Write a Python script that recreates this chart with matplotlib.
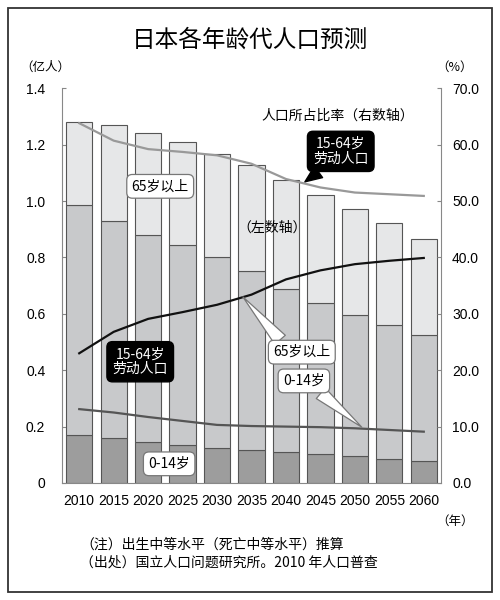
import numpy as np
import matplotlib
matplotlib.use("Agg")
import matplotlib.pyplot as plt
from matplotlib.patches import Rectangle

plt.rcParams['font.family'] = ['Noto Sans CJK SC', 'DejaVu Sans']

years = ["2010", "2015", "2020", "2025", "2030", "2035", "2040", "2045", "2050", "2055", "2060"]
# population (100 million), stacked
pop_0_14 = [0.170, 0.160, 0.146, 0.135, 0.124, 0.117, 0.110, 0.103, 0.096, 0.086, 0.079]
pop_15_64 = [0.817, 0.768, 0.735, 0.708, 0.676, 0.634, 0.578, 0.535, 0.500, 0.474, 0.446]
pop_65 = [0.294, 0.340, 0.361, 0.366, 0.368, 0.376, 0.385, 0.385, 0.375, 0.362, 0.342]
# share of population (%)
ratio_15_64 = [63.8, 60.7, 59.2, 58.7, 58.1, 56.6, 53.9, 52.4, 51.5, 51.2, 50.9]
ratio_65 = [23.0, 26.8, 29.1, 30.3, 31.6, 33.4, 36.1, 37.7, 38.8, 39.4, 39.9]
ratio_0_14 = [13.1, 12.5, 11.7, 11.0, 10.3, 10.1, 10.0, 9.9, 9.7, 9.4, 9.1]

x = np.arange(len(years))
a = np.array(pop_0_14)
b = np.array(pop_15_64)
c = np.array(pop_65)

num_font = ['Liberation Sans', 'DejaVu Sans']

fig = plt.figure(figsize=(5, 6), dpi=100)
fig.patches.append(Rectangle((8/500, 8/600), 484/500, 584/600, transform=fig.transFigure,
                             fill=False, ec="#333333", lw=1.3))

ax = fig.add_axes([0.124, 0.195, 0.758, 0.658])
w = 0.76
ax.bar(x, a, w, color="#9d9d9d", ec="#555555", lw=0.8, zorder=2)
ax.bar(x, b, w, bottom=a, color="#c8c9cb", ec="#555555", lw=0.8, zorder=2)
ax.bar(x, c, w, bottom=a + b, color="#e6e7e8", ec="#555555", lw=0.8, zorder=2)

ax.set_xlim(-0.5, 10.5)
ax.set_ylim(0, 1.4)
ax.set_yticks(np.arange(0, 1.41, 0.2))
ax.set_yticklabels(["0", "0.2", "0.4", "0.6", "0.8", "1.0", "1.2", "1.4"],
                   fontsize=10, family=num_font)
ax.set_xticks(x)
ax.set_xticklabels(years, fontsize=10, family=num_font)
ax.tick_params(axis="x", length=0, pad=8)
ax.tick_params(axis="y", direction="in", length=3, color="#888888", pad=12)
for s in ["top", "right"]:
    ax.spines[s].set_visible(False)
for s in ["left", "bottom"]:
    ax.spines[s].set_color("#888888")

ax2 = ax.twinx()
ax2.set_ylim(0, 70)
ax2.set_yticks(np.arange(0, 71, 10))
ax2.set_yticklabels(["%.1f" % v for v in np.arange(0, 71, 10)], fontsize=10, family=num_font)
ax2.tick_params(axis="y", direction="in", length=3, color="#888888", pad=8)
for s in ["top", "left", "bottom"]:
    ax2.spines[s].set_visible(False)
ax2.spines["right"].set_color("#888888")

ax2.plot(x, ratio_15_64, color="#999999", lw=1.6, zorder=3)
ax2.plot(x, ratio_65, color="#111111", lw=1.6, zorder=3)
ax2.plot(x, ratio_0_14, color="#555555", lw=1.6, zorder=3)

white_box = dict(boxstyle="round,pad=0.35,rounding_size=0.4", fc="white", ec="#777777", lw=0.9)
black_box = dict(boxstyle="round,pad=0.4,rounding_size=0.4", fc="black", ec="black")

ax2.text(7.51, 65.2, "人口所占比率（右数轴）", ha="center", va="center", fontsize=10)
ax2.annotate("15-64岁\n劳动人口", xy=(6.55, 53.4), xytext=(7.59, 58.8),
             ha="center", va="center", fontsize=10, color="white", linespacing=1.1,
             bbox=black_box,
             arrowprops=dict(arrowstyle="wedge,tail_width=1.0", fc="black", ec="black",
                             shrinkA=0, shrinkB=0, relpos=(0.25, 0.0)))
ax2.text(2.35, 52.6, "65岁以上", ha="center", va="center", fontsize=10, bbox=white_box)
ax2.text(5.59, 45.3, "（左数轴）", ha="center", va="center", fontsize=10)
ax2.text(1.77, 21.5, "15-64岁\n劳动人口", ha="center", va="center", fontsize=10,
         color="white", linespacing=1.1, bbox=black_box)
ax2.annotate("65岁以上", xy=(4.75, 33.0), xytext=(6.46, 23.2),
             ha="center", va="center", fontsize=10, bbox=white_box,
             arrowprops=dict(arrowstyle="wedge,tail_width=1.0", fc="white", ec="#777777",
                             lw=0.9, shrinkA=0, shrinkB=0, relpos=(0.2, 1.0)))
ax2.annotate("0-14岁", xy=(8.2, 9.9), xytext=(6.52, 18.1),
             ha="center", va="center", fontsize=10, bbox=white_box,
             arrowprops=dict(arrowstyle="wedge,tail_width=1.0", fc="white", ec="#777777",
                             lw=0.9, shrinkA=0, shrinkB=0, relpos=(0.75, 0.0)))
ax2.text(2.61, 3.4, "0-14岁", ha="center", va="center", fontsize=10, bbox=white_box)

fig.text(0.5, 0.933, "日本各年龄代人口预测", ha="center", va="center", fontsize=17)
fig.text(0.09, 0.888, "（亿人）", ha="center", va="center", fontsize=9)
fig.text(0.91, 0.888, "（%）", ha="center", va="center", fontsize=9)
fig.text(0.91, 0.132, "（年）", ha="center", va="center", fontsize=9)
fig.text(0.16, 0.092, "（注）出生中等水平（死亡中等水平）推算", ha="left", va="center", fontsize=10)
fig.text(0.16, 0.063, "（出处）国立人口问题研究所。2010 年人口普查", ha="left", va="center", fontsize=10)

fig.savefig("out.png", dpi=100)
